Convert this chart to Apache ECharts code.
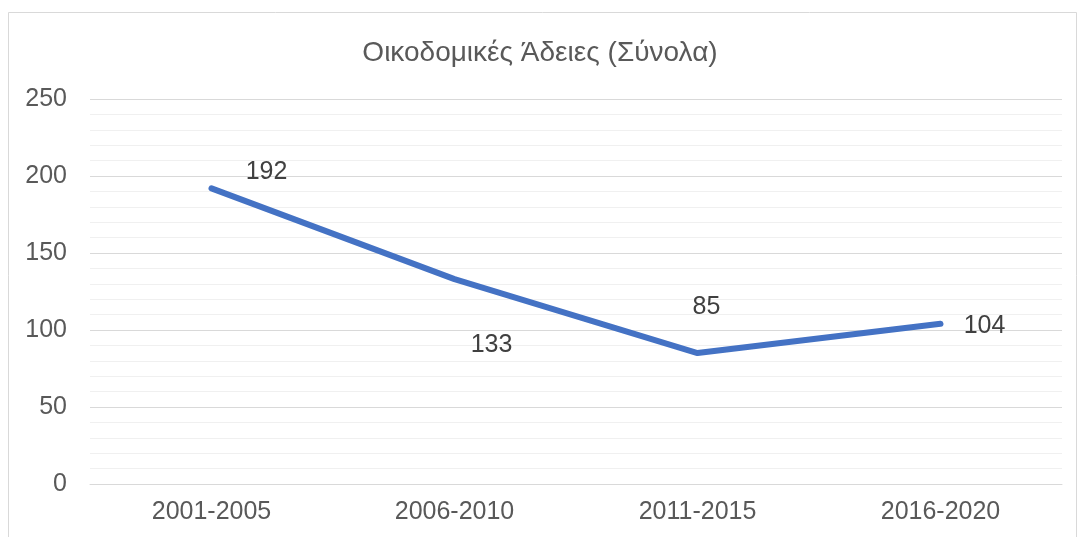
<!DOCTYPE html>
<html>
<head>
<meta charset="utf-8">
<script src="https://cdn.jsdelivr.net/npm/echarts@6/dist/echarts.min.js"></script>
<style>
  html, body { margin: 0; padding: 0; background: #fff; }
  #chart { width: 1080px; height: 537px; }
</style>
</head>
<body>
<div id="chart"></div>
<script>
var periods = ['2001-2005', '2006-2010', '2011-2015', '2016-2020'];
var permits = [192, 133, 85, 104];
var labelOffsets = [[55, -16], [37, 66], [9, -46], [44, 2]];

var myChart = echarts.init(document.getElementById('chart'));

var seriesData = permits.map(function (v, i) {
    return {
        value: v,
        label: {
            show: true,
            position: [1 + labelOffsets[i][0], 1 + labelOffsets[i][1]],
            align: 'center',
            verticalAlign: 'middle'
        }
    };
});

var option = {
    backgroundColor: '#fff',
    textStyle: { fontFamily: 'Liberation Sans, Arial, sans-serif' },
    title: {
        text: 'Οικοδομικές Άδειες (Σύνολα)',
        left: 'center',
        top: 34,
        textStyle: {
            fontFamily: 'Liberation Sans, Arial, sans-serif',
            fontSize: 28,
            fontWeight: 'normal',
            color: '#595959'
        }
    },
    graphic: [{
        type: 'rect',
        shape: { x: 8.5, y: 12.5, width: 1068, height: 540 },
        style: { fill: 'none', stroke: '#d9d9d9', lineWidth: 1 },
        silent: true
    }],
    grid: {
        left: 90,
        right: 18,
        top: 99,
        bottom: 53
    },
    xAxis: {
        type: 'category',
        data: periods,
        boundaryGap: true,
        axisLine: { lineStyle: { color: '#d9d9d9' } },
        axisTick: { show: false },
        axisLabel: {
            color: '#595959',
            fontSize: 25,
            margin: 16
        }
    },
    yAxis: {
        type: 'value',
        min: 0,
        max: 250,
        interval: 50,
        axisLine: { show: false },
        axisTick: { show: false },
        axisLabel: {
            color: '#595959',
            fontSize: 25,
            margin: 23
        },
        splitLine: { lineStyle: { color: '#d9d9d9', width: 1 } },
        minorTick: { show: false, splitNumber: 5 },
        minorSplitLine: { show: true, lineStyle: { color: '#f0f0f0', width: 1 } }
    },
    series: [{
        type: 'line',
        data: seriesData,
        showSymbol: true,
        symbol: 'circle',
        symbolSize: 2,
        lineStyle: { color: '#4472c4', width: 6, cap: 'round', join: 'round' },
        itemStyle: { color: 'rgba(0,0,0,0)', borderWidth: 0 },
        label: {
            show: true,
            color: '#404040',
            fontSize: 25
        },
        labelLayout: { hideOverlap: false },
        silent: true,
        animation: false
    }]
};

myChart.setOption(option);
</script>
</body>
</html>
